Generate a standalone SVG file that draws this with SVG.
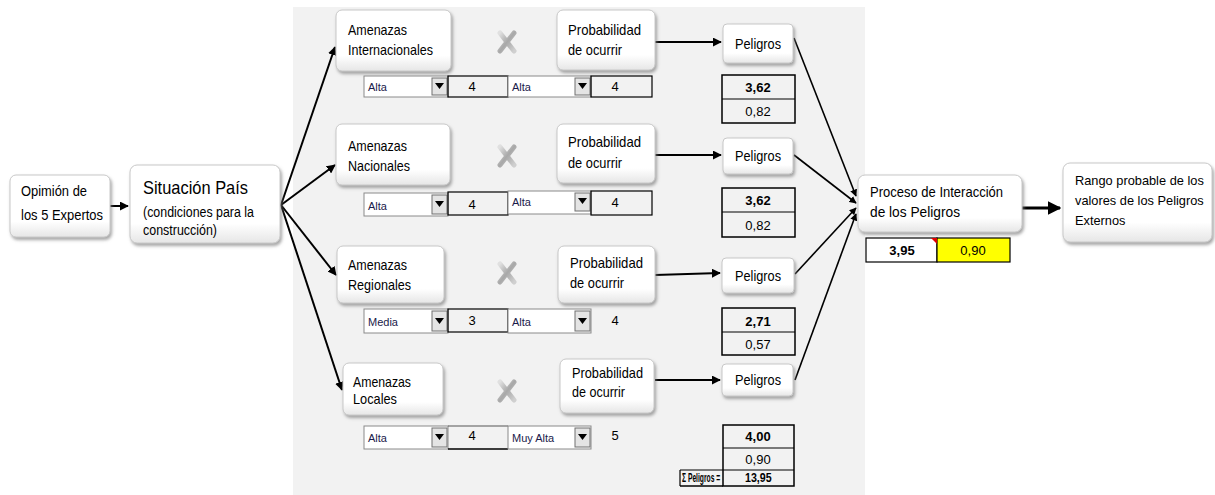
<svg xmlns="http://www.w3.org/2000/svg" width="1215" height="495" viewBox="0 0 1215 495">
<style>
text{font-family:"Liberation Sans",Arial,sans-serif;fill:#000}
.box{fill:url(#bx);stroke:#c8c8c8;stroke-width:1;filter:url(#sh)}
.t13{font-size:15px}
.dd{fill:#fff;stroke:#8a8a8a;stroke-width:1}
.btn{fill:#e4e4e4;stroke:#707070;stroke-width:1}
.ddt{font-size:11px;fill:#1a1a4a}
.cell{fill:none;stroke:#000;stroke-width:1.2}
.num{font-size:13px;text-anchor:middle}
.b{font-weight:bold}
.ln{stroke:#000;stroke-width:2;fill:none;marker-end:url(#ah)}
.xs{stroke:url(#xg);stroke-width:5;stroke-linecap:round;fill:none}
</style>
<defs>
<linearGradient id="bx" x1="0" y1="0" x2="0" y2="1">
<stop offset="0" stop-color="#ffffff"/><stop offset="0.75" stop-color="#ffffff"/><stop offset="1" stop-color="#e6e6e6"/>
</linearGradient>
<linearGradient id="xg" x1="0" y1="0" x2="1" y2="1">
<stop offset="0" stop-color="#e0e0e0"/><stop offset="0.5" stop-color="#a8a8a8"/><stop offset="1" stop-color="#d0d0d0"/>
</linearGradient>
<filter id="sh" x="-10%" y="-10%" width="125%" height="130%">
<feDropShadow dx="1.5" dy="2.5" stdDeviation="1.5" flood-color="#808080" flood-opacity="0.7"/>
</filter>
<marker id="ah" viewBox="0 0 10 10" refX="9" refY="5" markerWidth="4.5" markerHeight="4.5" orient="auto" markerUnits="strokeWidth">
<path d="M0,0 L10,5 L0,10 z" fill="#000"/>
</marker>
</defs>
<rect x="0" y="0" width="1215" height="495" fill="#fff"/>
<rect x="293" y="7" width="572" height="488" fill="#f2f2f2"/>

<g id="connectors">
<line class="ln" x1="110" y1="206" x2="128" y2="206"/>
<line class="ln" x1="281" y1="205" x2="335" y2="47"/>
<line class="ln" x1="281" y1="205" x2="335" y2="165"/>
<line class="ln" x1="281" y1="205" x2="336" y2="275"/>
<line class="ln" x1="281" y1="205" x2="342" y2="390"/>
<line class="ln" x1="655" y1="42" x2="721" y2="42"/>
<line class="ln" x1="655" y1="155" x2="721" y2="155"/>
<line class="ln" x1="655" y1="275" x2="720" y2="273"/>
<line class="ln" x1="655" y1="380" x2="720" y2="380"/>
<line class="ln" x1="794" y1="38" x2="856" y2="196" style="stroke-width:1.6"/>
<line class="ln" x1="794" y1="155" x2="856" y2="203" style="stroke-width:1.6"/>
<line class="ln" x1="795" y1="274" x2="856" y2="208" style="stroke-width:1.6"/>
<line class="ln" x1="795" y1="380" x2="856" y2="214" style="stroke-width:1.6"/>
<line class="ln" x1="1022" y1="208" x2="1060" y2="208" style="stroke-width:3"/>
</g>

<g id="opinion">
<rect class="box" x="10" y="175" width="100" height="62" rx="6"/>
<text class="t13" x="21" y="196" textLength="66" lengthAdjust="spacingAndGlyphs">Opimión de</text>
<text class="t13" x="21" y="220" textLength="82" lengthAdjust="spacingAndGlyphs">los 5 Expertos</text>
</g>
<g id="situacion">
<rect class="box" x="130" y="165" width="150" height="78" rx="7"/>
<text x="143" y="194" style="font-size:19px" textLength="105" lengthAdjust="spacingAndGlyphs">Situación País</text>
<text x="143" y="217" style="font-size:14px" textLength="111" lengthAdjust="spacingAndGlyphs">(condiciones para la</text>
<text x="143" y="235" style="font-size:14px" textLength="74" lengthAdjust="spacingAndGlyphs">construcción)</text>
</g>

<g id="amenazas-internacionales">
<rect class="box" x="336" y="10" width="115" height="61" rx="6"/>
<text class="t13" x="348" y="35" textLength="59" lengthAdjust="spacingAndGlyphs">Amenazas</text>
<text class="t13" x="348" y="55" textLength="85" lengthAdjust="spacingAndGlyphs">Internacionales</text>
</g>
<g id="amenazas-nacionales">
<rect class="box" x="336" y="124" width="114" height="61" rx="6"/>
<text class="t13" x="348" y="151" textLength="59" lengthAdjust="spacingAndGlyphs">Amenazas</text>
<text class="t13" x="348" y="171" textLength="62" lengthAdjust="spacingAndGlyphs">Nacionales</text>
</g>
<g id="amenazas-regionales">
<rect class="box" x="337" y="246" width="107" height="57" rx="6"/>
<text class="t13" x="348" y="270" textLength="59" lengthAdjust="spacingAndGlyphs">Amenazas</text>
<text class="t13" x="348" y="290" textLength="63" lengthAdjust="spacingAndGlyphs">Regionales</text>
</g>
<g id="amenazas-locales">
<rect class="box" x="343" y="363" width="100" height="52" rx="6"/>
<text class="t13" x="353" y="387" textLength="58" lengthAdjust="spacingAndGlyphs">Amenazas</text>
<text class="t13" x="353" y="404" textLength="44" lengthAdjust="spacingAndGlyphs">Locales</text>
</g>

<g id="multiplicadores">
<path class="xs" d="M500,33 L514,51 M514,33 L500,51"/>
<path class="xs" d="M500,147 L514,165 M514,147 L500,165"/>
<path class="xs" d="M500,264 L514,282 M514,264 L500,282"/>
<path class="xs" d="M500,382 L514,400 M514,382 L500,400"/>
</g>

<g id="probabilidad-1">
<rect class="box" x="557" y="10" width="98" height="60" rx="6"/>
<text class="t13" x="568" y="35" textLength="73" lengthAdjust="spacingAndGlyphs">Probabilidad</text>
<text class="t13" x="568" y="55" textLength="54" lengthAdjust="spacingAndGlyphs">de ocurrir</text>
</g>
<g id="probabilidad-2">
<rect class="box" x="557" y="124" width="98" height="59" rx="6"/>
<text class="t13" x="568" y="147" textLength="73" lengthAdjust="spacingAndGlyphs">Probabilidad</text>
<text class="t13" x="568" y="168" textLength="54" lengthAdjust="spacingAndGlyphs">de ocurrir</text>
</g>
<g id="probabilidad-3">
<rect class="box" x="558" y="246" width="97" height="57" rx="6"/>
<text class="t13" x="570" y="268" textLength="73" lengthAdjust="spacingAndGlyphs">Probabilidad</text>
<text class="t13" x="570" y="288" textLength="54" lengthAdjust="spacingAndGlyphs">de ocurrir</text>
</g>
<g id="probabilidad-4">
<rect class="box" x="560" y="359" width="94" height="54" rx="6"/>
<text class="t13" x="572" y="378" textLength="71" lengthAdjust="spacingAndGlyphs">Probabilidad</text>
<text class="t13" x="572" y="397" textLength="53" lengthAdjust="spacingAndGlyphs">de ocurrir</text>
</g>

<g id="peligros-1">
<rect class="box" x="723" y="24" width="70" height="39" rx="4"/>
<text class="t13" x="735" y="49" textLength="46" lengthAdjust="spacingAndGlyphs">Peligros</text>
</g>
<g id="peligros-2">
<rect class="box" x="723" y="138" width="70" height="36" rx="4"/>
<text class="t13" x="735" y="161" textLength="46" lengthAdjust="spacingAndGlyphs">Peligros</text>
</g>
<g id="peligros-3">
<rect class="box" x="722" y="258" width="72" height="35" rx="4"/>
<text class="t13" x="735" y="281" textLength="46" lengthAdjust="spacingAndGlyphs">Peligros</text>
</g>
<g id="peligros-4">
<rect class="box" x="722" y="364" width="71" height="32" rx="4"/>
<text class="t13" x="735" y="385" textLength="46" lengthAdjust="spacingAndGlyphs">Peligros</text>
</g>

<g id="selectores-1">
<rect class="dd" x="364" y="76" width="84" height="21"/>
<rect class="btn" x="432" y="78" width="15" height="17"/>
<path d="M435,83 L444,83 L439.5,89 z" fill="#000"/>
<text class="ddt" x="368" y="91">Alta</text>
<rect class="cell" x="448" y="76" width="60" height="21"/>
<text class="num" x="472" y="91">4</text>
<rect class="dd" x="508" y="76" width="83" height="21"/>
<rect class="btn" x="575" y="78" width="15" height="17"/>
<path d="M578,83 L587,83 L582.5,89 z" fill="#000"/>
<text class="ddt" x="512" y="91">Alta</text>
<rect class="cell" x="591" y="76" width="61" height="21"/>
<text class="num" x="615" y="91">4</text>
</g>
<g id="selectores-2">
<rect class="dd" x="364" y="193" width="84" height="23"/>
<rect class="btn" x="432" y="195" width="15" height="19"/>
<path d="M435,201 L444,201 L439.5,207 z" fill="#000"/>
<text class="ddt" x="368" y="210">Alta</text>
<rect class="cell" x="448" y="192" width="60" height="23"/>
<text class="num" x="472" y="209">4</text>
<rect class="dd" x="508" y="191" width="83" height="23"/>
<rect class="btn" x="575" y="193" width="15" height="18"/>
<path d="M578,198 L587,198 L582.5,204 z" fill="#000"/>
<text class="ddt" x="512" y="206">Alta</text>
<rect class="cell" x="591" y="191" width="61" height="24"/>
<text class="num" x="615" y="207">4</text>
</g>
<g id="selectores-3">
<rect class="dd" x="364" y="309" width="84" height="24"/>
<rect class="btn" x="432" y="311" width="15" height="20"/>
<path d="M435,318 L444,318 L439.5,324 z" fill="#000"/>
<text class="ddt" x="368" y="326">Media</text>
<rect class="cell" x="448" y="309" width="60" height="23"/>
<text class="num" x="472" y="325">3</text>
<rect class="dd" x="508" y="309" width="83" height="24"/>
<rect class="btn" x="575" y="311" width="15" height="20"/>
<path d="M578,318 L587,318 L582.5,324 z" fill="#000"/>
<text class="ddt" x="512" y="326">Alta</text>
<text class="num" x="615" y="325">4</text>
</g>
<g id="selectores-4">
<rect class="dd" x="364" y="426" width="84" height="23"/>
<rect class="btn" x="432" y="428" width="15" height="19"/>
<path d="M435,434 L444,434 L439.5,440 z" fill="#000"/>
<text class="ddt" x="368" y="442">Alta</text>
<line x1="448" y1="426" x2="508" y2="426" stroke="#555" stroke-width="1"/>
<line x1="448" y1="449" x2="508" y2="449" stroke="#000" stroke-width="1.5"/>
<text class="num" x="472" y="440">4</text>
<rect class="dd" x="508" y="426" width="83" height="23"/>
<rect class="btn" x="575" y="428" width="15" height="19"/>
<path d="M578,434 L587,434 L582.5,440 z" fill="#000"/>
<text class="ddt" x="512" y="442">Muy Alta</text>
<text class="num" x="615" y="440">5</text>
</g>

<g id="tabla-1">
<rect x="722" y="75" width="73" height="48" fill="#f2f2f2" stroke="#000" stroke-width="1.5"/>
<line x1="722" y1="99" x2="795" y2="99" stroke="#000" stroke-width="1.2"/>
<text class="num b" x="758" y="92">3,62</text>
<text class="num" x="758" y="116">0,82</text>
</g>
<g id="tabla-2">
<rect x="722" y="188" width="73" height="49" fill="#f2f2f2" stroke="#000" stroke-width="1.5"/>
<line x1="722" y1="212" x2="795" y2="212" stroke="#000" stroke-width="1.2"/>
<text class="num b" x="758" y="205">3,62</text>
<text class="num" x="758" y="230">0,82</text>
</g>
<g id="tabla-3">
<rect x="722" y="308" width="73" height="47" fill="#f2f2f2" stroke="#000" stroke-width="1.5"/>
<line x1="722" y1="332" x2="795" y2="332" stroke="#000" stroke-width="1.2"/>
<text class="num b" x="758" y="326">2,71</text>
<text class="num" x="758" y="349">0,57</text>
</g>
<g id="tabla-4">
<rect x="723" y="425" width="71" height="61" fill="#f2f2f2" stroke="#000" stroke-width="1.5"/>
<line x1="723" y1="448" x2="794" y2="448" stroke="#000" stroke-width="1.2"/>
<line x1="680" y1="470" x2="794" y2="470" stroke="#000" stroke-width="1.2"/>
<line x1="680" y1="470" x2="680" y2="486" stroke="#000" stroke-width="1.2"/>
<line x1="680" y1="486" x2="723" y2="486" stroke="#000" stroke-width="1.5"/>
<text class="num b" x="758" y="441">4,00</text>
<text class="num" x="758" y="464">0,90</text>
<text class="b" transform="translate(745,482) scale(0.82,1)" style="font-size:13px">13,95</text>
<text class="b" transform="translate(682,482) scale(0.56,1)" style="font-size:12px">Σ Peligros =</text>
</g>

<g id="proceso">
<rect class="box" x="858" y="175" width="164" height="57" rx="7"/>
<text class="t13" x="870" y="197" textLength="133" lengthAdjust="spacingAndGlyphs">Proceso de Interacción</text>
<text class="t13" x="870" y="217" textLength="90" lengthAdjust="spacingAndGlyphs">de los Peligros</text>
</g>
<g id="resultado">
<rect x="866" y="238" width="71" height="24" fill="#fff" stroke="#000" stroke-width="1.2"/>
<rect x="937" y="238" width="73" height="24" fill="#ffff00" stroke="#000" stroke-width="1.2"/>
<path d="M931,238 L937,238 L937,244 z" fill="#e00000"/>
<text class="num b" x="902" y="255">3,95</text>
<text class="num" x="973" y="255">0,90</text>
</g>
<g id="rango">
<rect class="box" x="1063" y="163" width="149" height="79" rx="7"/>
<text x="1075" y="185" style="font-size:12.8px">Rango probable de los</text>
<text x="1075" y="205" style="font-size:12.8px">valores de los Peligros</text>
<text x="1075" y="225" style="font-size:12.8px">Externos</text>
</g>
</svg>
